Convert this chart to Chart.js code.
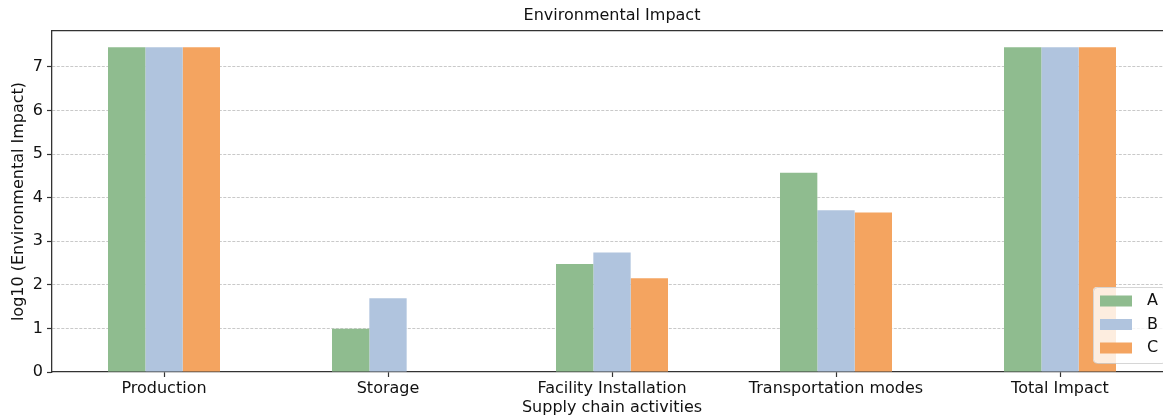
<!DOCTYPE html>
<html>
<head>
<meta charset="utf-8">
<script src="https://cdn.jsdelivr.net/npm/chart.js@4/dist/chart.umd.min.js"></script>
<style>
  html, body { margin: 0; padding: 0; overflow: hidden; background: #fff; }
  #wrap { width: 1180px; height: 418px; }
</style>
</head>
<body>
<div id="wrap"><canvas id="c" width="1180" height="418"></canvas></div>
<script>
// Supply chain activities and log10 impact per scenario
const categories = ['Production', 'Storage', 'Facility Installation', 'Transportation modes', 'Total Impact'];
const seriesNames = ['A', 'B', 'C'];
const seriesA = [7.45, 0.99, 2.48, 4.57, 7.45];
const seriesB = [7.45, 1.69, 2.74, 3.71, 7.45];
const seriesC = [7.45, null, 2.15, 3.66, 7.45];
const yTicks = [0, 1, 2, 3, 4, 5, 6, 7];
const seriesColors = ['#8fbc8f', '#b0c4de', '#f4a460'];

const FONT = 'DejaVu Sans';
Chart.defaults.font.family = FONT;
Chart.defaults.font.size = 16;
Chart.defaults.color = '#111';

// Legend box drawn inside the plot, lower right
const innerLegend = {
  id: 'innerLegend',
  afterDraw(chart) {
    const ctx = chart.ctx;
    const area = chart.chartArea;
    const w = 72.5, h = 76;
    const x = area.right - 6.5 - w;
    const y = area.bottom - 9 - h;
    ctx.save();
    ctx.beginPath();
    ctx.roundRect(x, y, w + 20, h, 4);
    ctx.fillStyle = 'rgba(255,255,255,0.8)';
    ctx.fill();
    ctx.strokeStyle = 'rgba(204,204,204,0.8)';
    ctx.lineWidth = 1;
    ctx.beginPath();
    ctx.roundRect(x + 0.5, y + 0.5, w, h, 4);
    ctx.stroke();
    ctx.font = '16px "' + FONT + '"';
    ctx.textBaseline = 'middle';
    ctx.textAlign = 'left';
    chart.data.datasets.forEach((ds, i) => {
      const ry = y + 14 + i * 23.5;
      ctx.fillStyle = ds.backgroundColor;
      ctx.fillRect(x + 7, ry - 5.5, 32, 11);
      ctx.fillStyle = '#111';
      ctx.fillText(ds.label, x + 54, ry);
    });
    ctx.restore();
  }
};

new Chart(document.getElementById('c'), {
  type: 'bar',
  data: {
    labels: categories,
    datasets: [
      { label: seriesNames[0], data: seriesA, backgroundColor: seriesColors[0] },
      { label: seriesNames[1], data: seriesB, backgroundColor: seriesColors[1] },
      { label: seriesNames[2], data: seriesC, backgroundColor: seriesColors[2] }
    ]
  },
  options: {
    responsive: false,
    animation: false,
    layout: { padding: { left: 0, right: 8, top: 0, bottom: 0 } },
    datasets: { bar: { categoryPercentage: 0.5, barPercentage: 1.0, borderWidth: 0 } },
    plugins: {
      legend: { display: false },
      title: { display: false },
      tooltip: { enabled: false }
    },
    scales: {
      y: {
        min: 0,
        max: 7.8225,
        z: 1,
        afterFit(s) { s.width = 52; },
        afterBuildTicks(s) { s.ticks = yTicks.map(v => ({ value: v })); },
        grid: { color: (c) => (c.tick && c.tick.value === 0 ? 'rgba(0,0,0,0)' : 'rgba(165,165,165,0.6)'),
                lineWidth: 1, drawTicks: true, tickLength: 5, tickColor: '#333', tickWidth: 1.2, tickBorderDash: [] },
        border: { display: true, color: '#333', width: 1.3, dash: [3, 1.5] },
        ticks: { padding: 4, color: '#111' },
        title: { display: true, text: 'log10 (Environmental Impact)', padding: { top: 9, bottom: 0 }, color: '#111' }
      },
      x: {
        position: 'bottom',
        z: 2,
        afterFit(s) { s.height = 46; },
        grid: { display: true, drawOnChartArea: false, offset: false, drawTicks: true,
                tickLength: 5, tickColor: '#333', tickWidth: 1.2 },
        border: { display: true, color: '#333', width: 1.3 },
        ticks: { padding: 2, color: '#111', maxRotation: 0 },
        title: { display: true, text: 'Supply chain activities', padding: { top: 0, bottom: 1 }, color: '#111' }
      },
      xTop: {
        type: 'category',
        labels: categories,
        position: 'top',
        z: 2,
        afterFit(s) { s.height = 31; },
        grid: { display: false },
        border: { display: true, color: '#333', width: 1.3 },
        ticks: { display: false },
        title: { display: true, text: 'Environmental Impact', padding: { top: 6, bottom: 0 }, color: '#111' }
      }
    }
  },
  plugins: [innerLegend]
});
</script>
</body>
</html>
